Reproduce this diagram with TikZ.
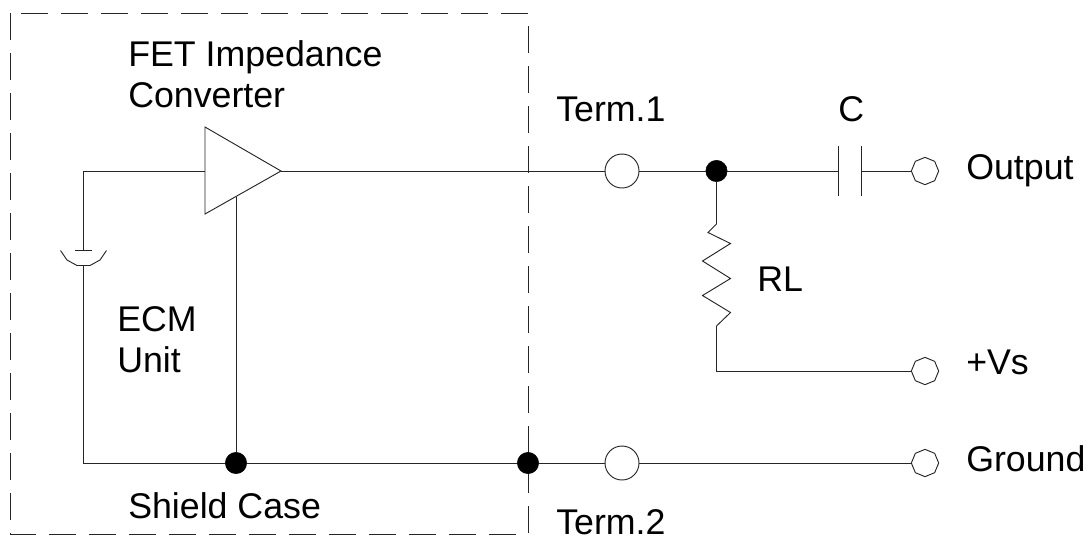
\documentclass[tikz,border=0pt]{standalone}
\usepackage{fontspec}
\setmainfont{Liberation Sans}
\usetikzlibrary{shapes.geometric,calc}
\tikzset{
  wire/.style={draw=black!85,line width=0.7pt},
  casebox/.style={draw=black!85,line width=0.7pt,dash pattern=on 20pt off 10pt},
  label/.style={anchor=base west,inner sep=0pt,font=\fontsize{26.8pt}{30pt}\selectfont,text=black},
  bigterm/.style={circle,draw=black!85,line width=0.7pt,fill=white,minimum size=25.5pt,inner sep=0pt},
  smallterm/.style={regular polygon,regular polygon sides=8,shape border rotate=22.5,draw=black!85,line width=0.7pt,fill=white,minimum size=20.5pt,inner sep=0pt},
  junction/.style={circle,fill=black,draw=black,line width=0.4pt,minimum size=16pt,inner sep=0pt}
}
\begin{document}
\begin{tikzpicture}[x=0.75pt,y=-0.75pt]
\useasboundingbox (0,0) rectangle (1088,537);
% shield case
\draw[casebox] (10,13) rectangle (528,534);
% points
\coordinate (ampin) at (205,171);
\coordinate (amptop) at (205,127);
\coordinate (ampbot) at (205,214);
\coordinate (ampout) at (281,171);
\coordinate (ampgnd) at (236,196.5);
\coordinate (corner) at (83.5,171);
\coordinate (platetop) at (83.5,250);
\coordinate (platebot) at (83.5,265.5);
\coordinate (cornerb) at (83.5,463);
\coordinate (capa) at (838,171);
\coordinate (capb) at (861,171);
\coordinate (rtop) at (716.5,224);
\coordinate (rbot) at (716.5,326);
\coordinate (rcorner) at (716.5,371);
% terminals and junctions
\node[bigterm] (t1) at (622,171) {};
\node[bigterm] (t2) at (622,463) {};
\node[smallterm] (out) at (925,171) {};
\node[smallterm] (vs) at (925,371) {};
\node[smallterm] (gnd) at (925,463) {};
\node[junction] (j1) at (716.5,171) {};
\node[junction] (j2) at (236,463) {};
\node[junction] (j3) at (528,463) {};
% wires
\draw[wire] (corner) -- (ampin);
\draw[wire] (corner) -- (platetop);
\draw[wire] (platebot) -- (cornerb) -- (j2);
\draw[wire] (j2) -- (j3);
\draw[wire] (j3) -- (t2);
\draw[wire] (t2) -- (gnd);
\draw[wire] (ampgnd) -- (j2);
\draw[wire] (ampout) -- (t1);
\draw[wire] (t1) -- (j1);
\draw[wire] (j1) -- (capa);
\draw[wire] (capb) -- (out);
\draw[wire] (j1) -- (rtop);
\draw[wire] (rbot) -- (rcorner) -- (vs);
% amplifier
\draw[wire,fill=white,line join=miter] (amptop) -- (ampout) -- (ampbot) -- cycle;
% microphone element
\draw[wire] (75,250) -- (92,250);
\draw[wire] (60.5,250.5) -- (67,260) -- (77,265.5) -- (90,265.5) -- (100,260) -- (106.5,250.5);
% capacitor
\draw[wire] (838,146) -- (838,196);
\draw[wire] (861,146) -- (861,196);
% resistor
\draw[wire] (rtop) -- (708,232.5) -- (730.5,243.5) -- (702.5,261) -- (730.5,278.5) -- (702.5,295.5) -- (730.5,312.5) -- (rbot);
% labels
\node[label] (l1) at (128,66) {FET Impedance};
\node[label] (l2) at (128,107) {Converter};
\node[label] (l3) at (556,121) {Term.1};
\node[label] (l4) at (838,121) {C};
\node[label] (l5) at (966,179) {Output};
\node[label] (l6) at (757,291) {RL};
\node[label] (l7) at (966,374) {+Vs};
\node[label] (l8) at (966,471) {Ground};
\node[label] (l9) at (128,518) {Shield Case};
\node[label] (l10) at (556,534.5) {Term.2};
\node[label] (l11) at (117,331) {ECM};
\node[label] (l12) at (117,372) {Unit};
\end{tikzpicture}
\end{document}
